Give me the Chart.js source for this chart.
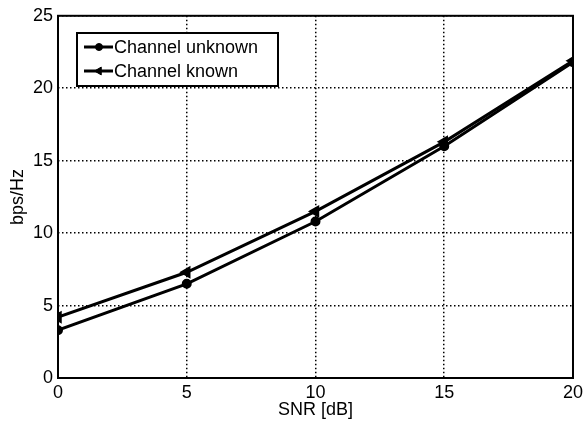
<!DOCTYPE html>
<html>
<head>
<meta charset="utf-8">
<script src="https://cdn.jsdelivr.net/npm/chart.js@4.4.1/dist/chart.umd.min.js"></script>
<style>
  html, body { margin: 0; padding: 0; background: #fff; }
  #wrap { width: 587px; height: 426px; position: relative; }
</style>
</head>
<body>
<div id="wrap"><canvas id="chart"></canvas></div>
<script>
// data
const snrValues = [0, 5, 10, 15, 20];
const channelUnknown = [3.3, 6.5, 10.8, 16.0, 21.8];
const channelKnown = [4.2, 7.3, 11.5, 16.3, 21.9];
const seriesLabels = ['Channel unknown', 'Channel known'];

const FONT = 'Liberation Sans, Arial, Helvetica, sans-serif';

function toPoints(xs, ys) {
  return xs.map((x, i) => ({ x: x, y: ys[i] }));
}

// box around the plot + legend inside the axes (matlab style)
const matlabBox = {
  id: 'matlabBox',
  afterDraw(chart) {
    const { ctx, chartArea: a } = chart;
    ctx.save();
    ctx.strokeStyle = '#000';
    ctx.lineWidth = 2;
    ctx.setLineDash([]);
    ctx.strokeRect(a.left, a.top, a.right - a.left, a.bottom - a.top);

    // legend
    const lx = 77, ly = 33, lw = 201, lh = 53;
    ctx.fillStyle = '#fff';
    ctx.fillRect(lx, ly, lw, lh);
    ctx.strokeRect(lx, ly, lw, lh);
    ctx.font = '18px ' + FONT;
    ctx.textBaseline = 'middle';
    chart.data.datasets.forEach((ds, i) => {
      const y = ly + 14 + i * 24;
      ctx.lineWidth = 3;
      ctx.beginPath();
      ctx.moveTo(lx + 7, y);
      ctx.lineTo(lx + 36, y);
      ctx.stroke();
      ctx.fillStyle = '#000';
      ctx.lineWidth = 1;
      Chart.helpers.drawPoint(ctx, {
        pointStyle: ds.pointStyle,
        rotation: ds.pointRotation || 0,
        radius: ds.pointRadius,
        borderWidth: 1
      }, lx + 22, y);
      ctx.fillText(ds.label, lx + 37, y + 1);
    });
    ctx.restore();
  }
};

new Chart(document.getElementById('chart'), {
  type: 'line',
  data: {
    datasets: [
      {
        label: seriesLabels[0],
        data: toPoints(snrValues, channelUnknown),
        borderColor: '#000',
        backgroundColor: '#000',
        borderWidth: 3,
        pointStyle: 'circle',
        pointRadius: 3.5,
        tension: 0
      },
      {
        label: seriesLabels[1],
        data: toPoints(snrValues, channelKnown),
        borderColor: '#000',
        backgroundColor: '#000',
        borderWidth: 3,
        pointStyle: 'triangle',
        pointRotation: -90,
        pointRadius: 4.5,
        tension: 0
      }
    ]
  },
  options: {
    responsive: true,
    maintainAspectRatio: false,
    animation: false,
    layout: { padding: { top: 13, right: 12, left: 0, bottom: 0 } },
    plugins: { legend: { display: false }, tooltip: { enabled: false } },
    scales: {
      x: {
        type: 'linear',
        min: 0, max: 20,
        ticks: { stepSize: 5, color: '#000', font: { family: FONT, size: 18 }, padding: 4, maxRotation: 0 },
        grid: { color: '#000', lineWidth: 1.5, drawTicks: false },
        border: { display: false, dash: [1.5, 2.5] },
        title: { display: true, text: 'SNR [dB]', color: '#000', font: { family: FONT, size: 18 }, padding: { top: 0, bottom: 5 } },
        afterFit(scale) { scale.height = 48; }
      },
      y: {
        min: 0, max: 25,
        ticks: { stepSize: 5, color: '#000', font: { family: FONT, size: 18 }, padding: 5 },
        grid: { color: '#000', lineWidth: 1.5, drawTicks: false },
        border: { display: false, dash: [1.5, 2.5] },
        title: { display: true, text: 'bps/Hz', color: '#000', font: { family: FONT, size: 18 }, padding: { top: 7, bottom: 0 } },
        afterFit(scale) { scale.width = 58; }
      }
    }
  },
  plugins: [matlabBox]
});
</script>
</body>
</html>
